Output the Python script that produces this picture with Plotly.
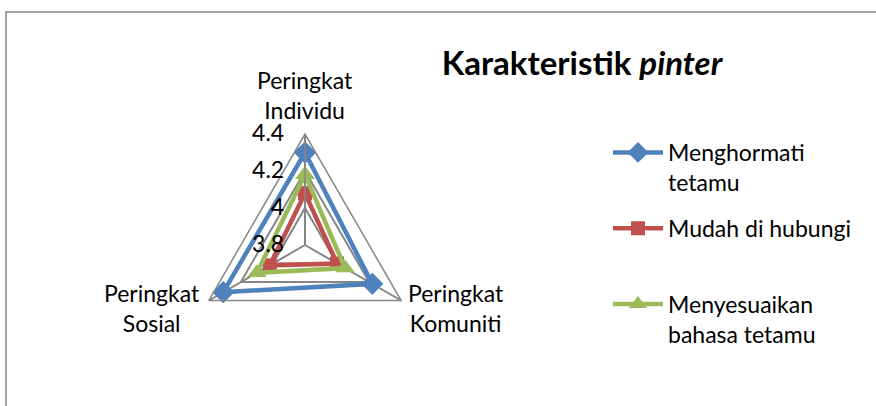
import plotly.graph_objects as go

categories = ["Peringkat<br>Individu", "Peringkat<br>Komuniti", "Peringkat<br>Sosial"]
series_names = ["Menghormati<br>tetamu", "Mudah di hubungi<br> ", "Menyesuaikan<br>bahasa tetamu"]
menghormati = [4.30, 4.22, 4.31]
mudah = [4.08, 4.00, 4.02]
menyesuaikan = [4.18, 4.05, 4.10]
tick_vals = [3.8, 4.0, 4.2, 4.4]
tick_text = ["3.8", "4", "4.2", "4.4"]

colors = ["#4F81BD", "#C0504D", "#9BBB59"]
symbols = ["diamond", "square", "triangle-up"]
sizes = [17, 14, 17]
FONT = "Lato, Calibri, Carlito, sans-serif"
W, H = 876, 406

fig = go.Figure()
for i, (name, vals) in enumerate(zip(series_names, [menghormati, mudah, menyesuaikan])):
    fig.add_trace(go.Scatterpolar(
        r=vals + vals[:1],
        theta=categories + categories[:1],
        mode="lines+markers",
        name=name,
        legendgroup=f"g{i}",
        line=dict(color=colors[i], width=4.5),
        marker=dict(symbol=symbols[i], size=sizes[i], color=colors[i]),
    ))

cx, cy, R = 305, 245, 111
# category labels placed around the chart (centered multi-line text like the original)
label_pos = {categories[0]: (305, 95), categories[1]: (456, 308), categories[2]: (152, 308)}
annotations = [dict(text=c, x=label_pos[c][0] / W, y=1 - label_pos[c][1] / H,
                    xref="paper", yref="paper", showarrow=False, align="center",
                    xanchor="center", yanchor="middle",
                    font=dict(size=23, family=FONT, color="#000000"))
               for c in categories]

fig.update_layout(
    width=W, height=H,
    margin=dict(l=0, r=0, t=0, b=0),
    paper_bgcolor="white",
    font=dict(family=FONT, color="#000000", size=23),
    title=dict(text="<b>Karakteristik <i>pinter</i></b>", x=582 / W, xanchor="center",
               y=1 - 63 / H, yanchor="middle", xref="paper", yref="paper",
               font=dict(size=33, family=FONT, color="#000000")),
    polar=dict(
        domain=dict(x=[(cx - R) / W, (cx + R) / W], y=[1 - (cy + R) / H, 1 - (cy - R) / H]),
        gridshape="linear",
        bgcolor="white",
        radialaxis=dict(range=[3.8, 4.4], tickvals=tick_vals, ticktext=tick_text,
                        angle=90, tickangle=90, side="counterclockwise",
                        showline=True, linecolor="#868686", linewidth=1.5,
                        gridcolor="#868686", gridwidth=1.5,
                        ticks="outside", ticklen=12, tickcolor="rgba(0,0,0,0)",
                        tickfont=dict(size=23, family=FONT)),
        angularaxis=dict(rotation=90, direction="clockwise",
                         showline=True, linecolor="#868686", linewidth=1.5,
                         gridcolor="#868686", gridwidth=1.5,
                         ticks="", showticklabels=False),
    ),
    legend=dict(x=608 / W, y=1 - 131 / H, xanchor="left", yanchor="top",
                valign="top", traceorder="grouped", tracegroupgap=13,
                itemwidth=50, font=dict(size=23, family=FONT)),
    annotations=annotations,
    shapes=[dict(type="rect", xref="paper", yref="paper",
                 x0=6 / W, x1=1.2, y0=-0.2, y1=1 - 12 / H,
                 line=dict(color="#868686", width=1.5), layer="below")],
)

fig.write_html("out.html", config={"displayModeBar": False},
               post_script="document.body.style.margin='0';")
